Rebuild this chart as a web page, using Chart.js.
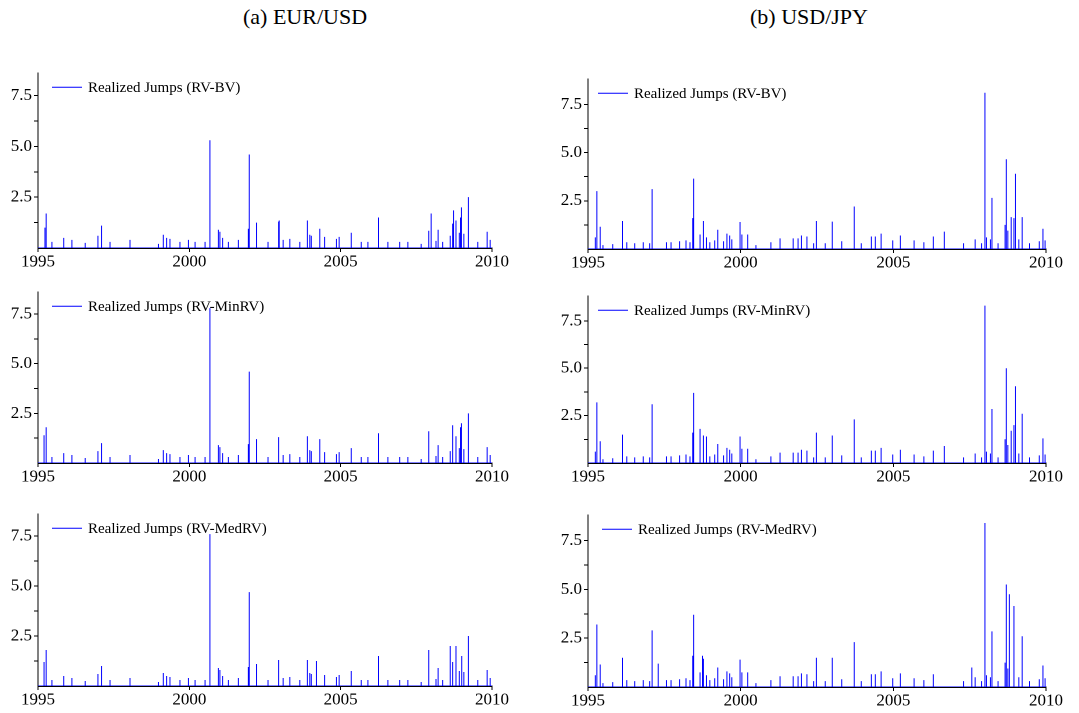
<!DOCTYPE html>
<html>
<head>
<meta charset="utf-8">
<script src="https://cdn.jsdelivr.net/npm/chart.js@4"></script>
<style>
  body { margin: 0; background: #fff; width: 1079px; height: 713px; position: relative; overflow: hidden; }
  .ttl { position: absolute; top: 4px; font: 22px "Liberation Serif", serif; color: #000; }
  canvas { position: absolute; }
</style>
</head>
<body>
<div class="ttl" style="left:243px">(a) EUR/USD</div>
<div class="ttl" style="left:750px">(b) USD/JPY</div>
<canvas id="l1"></canvas><canvas id="l2"></canvas><canvas id="l3"></canvas>
<canvas id="r1"></canvas><canvas id="r2"></canvas><canvas id="r3"></canvas>
<script>
// small jumps shared per currency (year, size)
const eurSmall = [[1995.46,0.3],[1995.85,0.5],[1996.12,0.4],[1996.56,0.25],[1996.98,0.6],[1997.38,0.3],[1998.04,0.4],[1998.98,0.2],[1999.14,0.65],[1999.25,0.5],[1999.36,0.45],[1999.69,0.3],[1999.97,0.4],[2000.19,0.3],[2000.52,0.3],[2000.96,0.9],[2001.01,0.8],[2001.10,0.5],[2001.29,0.3],[2001.62,0.4],[2001.95,0.95],[2002.60,0.3],[2003.10,0.4],[2003.32,0.45],[2003.65,0.3],[2003.98,0.65],[2004.03,0.6],[2004.47,0.55],[2004.86,0.45],[2004.95,0.55],[2005.35,0.75],[2005.68,0.3],[2005.90,0.3],[2006.56,0.3],[2006.95,0.3],[2007.22,0.3],[2007.66,0.2],[2007.91,0.85],[2008.15,0.35],[2008.22,0.9],[2008.37,0.3],[2008.62,0.6],[2008.70,1.2],[2008.81,1.35],[2008.92,0.75],[2009.07,0.7],[2009.53,0.3],[2009.94,0.4]];
const jpySmall = [[1995.24,0.6],[1995.40,1.15],[1995.49,0.2],[1995.81,0.25],[1996.27,0.35],[1996.53,0.3],[1996.81,0.35],[1997.02,0.3],[1997.57,0.35],[1997.72,0.35],[1998.00,0.4],[1998.21,0.45],[1998.34,0.35],[1998.43,1.6],[1998.67,0.75],[1998.78,1.45],[1998.88,0.6],[1998.99,0.35],[1999.15,0.45],[1999.25,1.0],[1999.44,0.4],[1999.55,0.8],[1999.64,0.7],[1999.71,0.5],[2000.04,0.75],[2000.23,0.75],[2000.50,0.2],[2000.99,0.35],[2001.29,0.55],[2001.72,0.55],[2001.88,0.55],[2001.99,0.7],[2002.17,0.65],[2002.39,0.3],[2002.77,0.3],[2003.31,0.4],[2003.95,0.3],[2004.28,0.65],[2004.41,0.65],[2004.60,0.8],[2004.98,0.45],[2005.23,0.7],[2005.68,0.45],[2006.00,0.35],[2006.31,0.65],[2007.30,0.3],[2007.68,0.5],[2007.89,0.3],[2008.05,0.6],[2008.18,0.5],[2008.43,0.3],[2008.66,1.25],[2008.75,0.95],[2009.11,0.5],[2009.46,0.3],[2009.78,0.4],[2009.97,0.45]];

// large jumps per panel
const eurBV = [[1995.23,1.0],[1995.27,1.7],[1997.10,1.1],[2000.68,5.3],[2001.98,4.6],[2002.22,1.25],[2002.95,1.3],[2002.97,1.35],[2003.90,1.35],[2004.31,0.95],[2006.25,1.5],[2007.99,1.7],[2008.73,1.85],[2008.96,1.5],[2008.99,2.0],[2009.22,2.5],[2009.84,0.8]];
const eurMinRV = [[1995.20,1.4],[1995.27,1.8],[1997.10,1.0],[2000.68,7.8],[2001.98,4.6],[2002.22,1.2],[2002.95,1.3],[2003.90,1.35],[2004.31,1.2],[2006.25,1.5],[2007.91,1.6],[2008.70,1.9],[2008.96,1.8],[2008.99,2.0],[2009.22,2.5],[2009.84,0.8]];
const eurMedRV = [[1995.20,1.2],[1995.27,1.8],[1997.10,1.0],[2000.68,7.6],[2001.98,4.7],[2002.22,1.1],[2002.95,1.3],[2003.90,1.3],[2004.20,1.25],[2006.25,1.5],[2007.91,1.8],[2008.62,2.0],[2008.81,2.0],[2009.00,1.5],[2009.22,2.5],[2009.84,0.8]];
const jpyBV = [[1995.29,3.0],[1996.13,1.45],[1997.10,3.1],[1998.46,3.65],[1999.98,1.4],[2002.48,1.45],[2003.00,1.42],[2003.72,2.2],[2006.67,0.9],[2008.00,8.1],[2008.23,2.65],[2008.70,4.65],[2008.86,1.65],[2008.95,1.6],[2009.00,3.9],[2009.22,1.65],[2009.90,1.05]];
const jpyMinRV = [[1995.29,3.2],[1996.13,1.5],[1997.10,3.1],[1998.46,3.7],[1998.67,1.8],[1998.88,1.4],[1999.98,1.4],[2002.48,1.6],[2003.00,1.45],[2003.72,2.3],[2006.67,0.9],[2008.00,8.3],[2008.23,2.85],[2008.70,5.0],[2008.86,1.7],[2008.95,2.0],[2009.00,4.05],[2009.22,2.6],[2009.90,1.3]];
const jpyMedRV = [[1995.29,3.2],[1996.13,1.5],[1997.10,2.9],[1997.30,1.2],[1998.46,3.7],[1998.75,1.6],[1999.98,1.4],[2002.48,1.5],[2003.00,1.5],[2003.72,2.3],[2007.57,1.0],[2008.00,8.4],[2008.23,2.85],[2008.70,5.25],[2008.80,4.75],[2008.95,4.15],[2009.22,2.6],[2009.90,1.1]];

const yearTicks = [1995, 2000, 2005, 2010];
const valueTicks = [1.25, 2.5, 3.75, 5.0, 6.25, 7.5];
const labelTicks = [2.5, 5.0, 7.5];

function spikes(small, big) {
    const all = small.concat(big).sort((a, b) => a[0] - b[0]);
    const pts = [{ x: 1995, y: 0 }];
    all.forEach(([t, v]) => {
        pts.push({ x: t, y: 0 }, { x: t, y: v }, { x: t, y: 0 });
    });
    pts.push({ x: 2010, y: 0 });
    return pts;
}

const legendText = {
    id: 'legendText',
    afterDraw(chart, args, opts) {
        const c = chart.ctx, a = chart.chartArea;
        c.save();
        c.strokeStyle = '#0000ff'; c.lineWidth = 1;
        c.beginPath(); c.moveTo(a.left + opts.dx, a.top + 14); c.lineTo(a.left + opts.dx + 30, a.top + 14); c.stroke();
        c.fillStyle = '#000'; c.font = '15px "Liberation Serif", serif'; c.textBaseline = 'middle';
        c.fillText(opts.text, a.left + opts.dx + 36, a.top + 15);
        c.restore();
    }
};

function panel(id, left, top, width, height, max, small, big, label, dx) {
    const cv = document.getElementById(id);
    cv.style.left = left + 'px'; cv.style.top = top + 'px';
    cv.style.width = width + 'px'; cv.style.height = height + 'px';
    new Chart(cv, {
        type: 'line',
        data: { datasets: [{ data: spikes(small, big), borderColor: '#0000ff', borderWidth: 1, pointRadius: 0, tension: 0, fill: false }] },
        options: {
            responsive: false, animation: false, devicePixelRatio: 2,
            layout: { padding: { top: 6, right: 20, left: 0, bottom: 0 } },
            plugins: { legend: { display: false }, tooltip: { enabled: false }, legendText: { text: label, dx: dx } },
            scales: {
                x: {
                    type: 'linear', min: 1995, max: 2010,
                    afterBuildTicks: s => { s.ticks = yearTicks.map(v => ({ value: v })); },
                    afterFit: s => { s.height = 24; },
                    border: { color: '#000', width: 1.5 },
                    grid: { drawOnChartArea: false, tickLength: 4, color: '#000' },
                    ticks: { color: '#000', font: { family: '"Liberation Serif", serif', size: 17 }, padding: 0, maxRotation: 0, callback: v => String(v) }
                },
                y: {
                    min: 0, max: max,
                    afterBuildTicks: s => { s.ticks = valueTicks.map(v => ({ value: v })); },
                    afterFit: s => { s.width = 38; },
                    border: { color: '#000', width: 1 },
                    grid: { drawOnChartArea: false, tickLength: 4, color: '#000' },
                    ticks: {
                        color: '#000', font: { family: '"Liberation Serif", serif', size: 17 }, padding: 2,
                        callback: v => labelTicks.includes(v) ? v.toFixed(1) : ''
                    }
                }
            }
        },
        plugins: [legendText]
    });
}

panel('l1', 0, 61, 512, 211, 8.6, eurSmall, eurBV, 'Realized Jumps (RV-BV)', 14);
panel('l2', 0, 280, 512, 207, 8.6, eurSmall, eurMinRV, 'Realized Jumps (RV-MinRV)', 14);
panel('l3', 0, 502, 512, 208, 8.6, eurSmall, eurMedRV, 'Realized Jumps (RV-MedRV)', 14);
panel('r1', 550, 67, 516, 206, 8.8, jpySmall, jpyBV, 'Realized Jumps (RV-BV)', 10);
panel('r2', 550, 284, 516, 203, 8.8, jpySmall, jpyMinRV, 'Realized Jumps (RV-MinRV)', 10);
panel('r3', 550, 503, 516, 208, 8.8, jpySmall, jpyMedRV, 'Realized Jumps (RV-MedRV)', 14);
</script>
</body>
</html>
